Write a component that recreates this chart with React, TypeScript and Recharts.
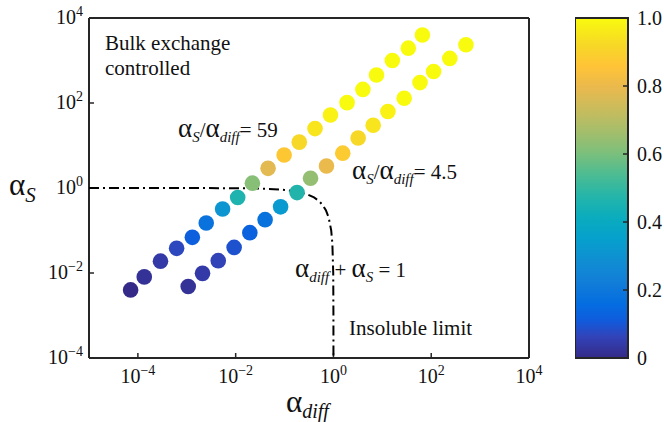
import React from 'react';
import { ScatterChart, Scatter, XAxis, YAxis, BarChart, Bar } from 'recharts';

const FONT = 'Liberation Serif, DejaVu Serif, Times New Roman, serif';
const INK = '#262626';

// alpha_S / alpha_diff = 59
const diff59 = [7.1e-5, 1.35e-4, 2.9e-4, 6.2e-4, 1.3e-3, 2.5e-3, 5.4e-3, 0.011, 0.022, 0.046, 0.098, 0.2, 0.42, 0.87, 1.9, 4.0, 7.6, 16, 34, 66];
const s59 = [0.004, 0.0081, 0.019, 0.038, 0.069, 0.15, 0.32, 0.6, 1.3, 2.9, 6.0, 12, 25, 52, 102, 209, 457, 1000, 1950, 3980];
const c59 = [0.0, 0.02, 0.04, 0.07, 0.12, 0.18, 0.31, 0.46, 0.62, 0.78, 0.87, 0.92, 0.95, 0.98, 1, 1, 1, 1, 1, 1];

// alpha_S / alpha_diff = 4.5
const diff45 = [1.07e-3, 2.1e-3, 4.4e-3, 9.3e-3, 0.0195, 0.04, 0.083, 0.18, 0.34, 0.72, 1.55, 3.2, 6.5, 13, 28, 59, 112, 240, 513];
const s45 = [0.0048, 0.0098, 0.0195, 0.04, 0.089, 0.18, 0.36, 0.78, 1.7, 3.3, 6.6, 15, 30, 63, 129, 302, 550, 1120, 2340];
const c45 = [0.02, 0.04, 0.06, 0.09, 0.13, 0.18, 0.33, 0.47, 0.64, 0.8, 0.88, 0.92, 0.95, 0.98, 1, 1, 1, 1, 1];

// insoluble limit curve, alpha_diff + alpha_S = 1
const limitDiff = [1e-5, 1e-3, 0.01, 0.03, 0.06, 0.1, 0.15, 0.2, 0.3, 0.4, 0.5, 0.6, 0.7, 0.8, 0.9, 0.95, 0.99, 0.999, 0.9999];
const limitS = [1, 0.999, 0.99, 0.97, 0.94, 0.9, 0.85, 0.8, 0.7, 0.6, 0.5, 0.4, 0.3, 0.2, 0.1, 0.05, 0.01, 0.001, 0.0001];

const xTicks = [1e-4, 1e-2, 1, 1e2, 1e4];
const yTicks = [1e-4, 1e-2, 1, 1e2, 1e4];
const cbTicks = [0, 0.2, 0.4, 0.6, 0.8, 1];

// parula colormap (position, r, g, b)
const PARULA = [
  [0.0, 0.2081, 0.1663, 0.5292],
  [0.0635, 0.1959, 0.2645, 0.7279],
  [0.111, 0.0591, 0.3598, 0.8683],
  [0.159, 0.0165, 0.4266, 0.8786],
  [0.222, 0.0723, 0.4887, 0.8467],
  [0.286, 0.0641, 0.557, 0.824],
  [0.349, 0.0239, 0.6287, 0.8038],
  [0.413, 0.0384, 0.6743, 0.7436],
  [0.476, 0.1453, 0.7098, 0.6646],
  [0.54, 0.3022, 0.7376, 0.5712],
  [0.603, 0.4871, 0.7491, 0.484],
  [0.667, 0.6473, 0.7456, 0.4188],
  [0.73, 0.7858, 0.7356, 0.3633],
  [0.794, 0.9139, 0.7258, 0.3063],
  [0.857, 0.999, 0.7653, 0.2164],
  [0.921, 0.9697, 0.8481, 0.1475],
  [1.0, 0.9763, 0.9831, 0.0538],
];

const rgb = (r: number, g: number, b: number) =>
  `rgb(${Math.round(r * 255)},${Math.round(g * 255)},${Math.round(b * 255)})`;

function parula(v: number) {
  const t = Math.max(0, Math.min(1, v));
  for (let i = 1; i < PARULA.length; i++) {
    const a = PARULA[i - 1];
    const b = PARULA[i];
    if (t <= b[0]) {
      const f = (t - a[0]) / (b[0] - a[0]);
      return rgb(a[1] + f * (b[1] - a[1]), a[2] + f * (b[2] - a[2]), a[3] + f * (b[3] - a[3]));
    }
  }
  const l = PARULA[PARULA.length - 1];
  return rgb(l[1], l[2], l[3]);
}

const pts59 = diff59.map((x, i) => ({ x, y: s59[i], c: c59[i] }));
const pts45 = diff45.map((x, i) => ({ x, y: s45[i], c: c45[i] }));
const limit = limitDiff.map((x, i) => ({ x, y: limitS[i] }));

const sup = (e: number) => (e < 0 ? '\u2212' + Math.abs(e) : String(e));
const txt = { fontFamily: FONT, fill: '#111' };

const XTick = (props: any) => {
  const { x, y, payload } = props;
  const e = Math.round(Math.log10(payload.value));
  return (
    <text x={x} y={y} textAnchor="middle" fontSize={20} style={txt}>
      <tspan>10</tspan>
      <tspan dy={-8} fontSize={14}>{sup(e)}</tspan>
    </text>
  );
};

const YTick = (props: any) => {
  const { x, y, payload } = props;
  const e = Math.round(Math.log10(payload.value));
  return (
    <text x={x} y={y + 6} textAnchor="end" fontSize={20} style={txt}>
      <tspan>10</tspan>
      <tspan dy={-8} fontSize={14}>{sup(e)}</tspan>
    </text>
  );
};

const Dot = (props: any) => (
  <circle cx={props.cx} cy={props.cy} r={7.8} fill={parula(props.payload.c)} />
);

function Notes() {
  return (
    <g>
      <text x={105} y={50} fontSize={21} style={txt}>Bulk exchange</text>
      <text x={105} y={75} fontSize={21} style={txt}>controlled</text>
      <text x={178} y={137} fontSize={21} style={txt}>
        <tspan fontSize={27}>α</tspan>
        <tspan fontSize={15} fontStyle="italic" dy={5}>S</tspan>
        <tspan dy={-5}>/</tspan>
        <tspan fontSize={27}>α</tspan>
        <tspan fontSize={15} fontStyle="italic" dy={5}>diff</tspan>
        <tspan dy={-5}>= 59</tspan>
      </text>
      <text x={352} y={179} fontSize={21} style={txt}>
        <tspan fontSize={27}>α</tspan>
        <tspan fontSize={15} fontStyle="italic" dy={5}>S</tspan>
        <tspan dy={-5}>/</tspan>
        <tspan fontSize={27}>α</tspan>
        <tspan fontSize={15} fontStyle="italic" dy={5}>diff</tspan>
        <tspan dy={-5}>= 4.5</tspan>
      </text>
      <text x={295} y={277} fontSize={21} style={txt}>
        <tspan fontSize={27}>α</tspan>
        <tspan fontSize={15} fontStyle="italic" dy={5}>diff</tspan>
        <tspan dy={-5}>{'\u00a0+ '}</tspan>
        <tspan fontSize={27}>α</tspan>
        <tspan fontSize={15} fontStyle="italic" dy={5}>S</tspan>
        <tspan dy={-5}>{'\u00a0= 1'}</tspan>
      </text>
      <text x={349} y={335} fontSize={21} style={txt}>Insoluble limit</text>
      {/* axis titles */}
      <text x={9} y={195} style={txt}>
        <tspan fontSize={31}>α</tspan>
        <tspan fontSize={21} fontStyle="italic" dy={7}>S</tspan>
      </text>
      <text x={286} y={412} style={txt}>
        <tspan fontSize={31}>α</tspan>
        <tspan fontSize={20} fontStyle="italic" dy={6}>diff</tspan>
      </text>
    </g>
  );
}

export default function App() {
  const axisLine = { stroke: INK, strokeWidth: 2 };
  const tickLine = { stroke: INK, strokeWidth: 1.5 };
  return (
    <div style={{ position: 'fixed', left: 0, top: 0, width: 664, height: 422, background: '#fff', overflow: 'hidden', fontFamily: FONT }}>
      <div style={{ position: 'absolute', left: 0, top: 0 }}>
        <ScatterChart width={664} height={422} margin={{ top: 0, right: 0, bottom: 0, left: 0 }}>
          <XAxis
            xAxisId="b"
            dataKey="x"
            type="number"
            scale="log"
            domain={[1e-5, 1e4]}
            allowDataOverflow
            ticks={xTicks}
            height={64}
            tickSize={-5}
            tickMargin={30}
            axisLine={axisLine}
            tickLine={tickLine}
            tick={<XTick />}
          />
          <XAxis
            xAxisId="t"
            orientation="top"
            dataKey="x"
            type="number"
            scale="log"
            domain={[1e-5, 1e4]}
            allowDataOverflow
            ticks={xTicks}
            height={18}
            tickSize={-5}
            axisLine={axisLine}
            tickLine={tickLine}
            tick={false}
          />
          <YAxis
            yAxisId="l"
            dataKey="y"
            type="number"
            scale="log"
            domain={[1e-4, 1e4]}
            allowDataOverflow
            ticks={yTicks}
            width={89}
            tickSize={-5}
            tickMargin={11}
            axisLine={axisLine}
            tickLine={tickLine}
            tick={<YTick />}
          />
          <YAxis
            yAxisId="r"
            orientation="right"
            dataKey="y"
            type="number"
            scale="log"
            domain={[1e-4, 1e4]}
            allowDataOverflow
            ticks={yTicks}
            width={135}
            tickSize={-5}
            axisLine={axisLine}
            tickLine={tickLine}
            tick={false}
          />
          <Scatter
            data={limit}
            xAxisId="t"
            yAxisId="r"
            line={{ stroke: '#000', strokeWidth: 2, strokeDasharray: '10 4 2 4' }}
            shape={() => <g />}
            isAnimationActive={false}
          />
          <Scatter data={pts59} xAxisId="b" yAxisId="l" shape={Dot} isAnimationActive={false} />
          <Scatter data={pts45} xAxisId="b" yAxisId="l" shape={Dot} isAnimationActive={false} />
          <Notes />
        </ScatterChart>
      </div>
      <div style={{ position: 'absolute', left: 575, top: 0 }}>
        <BarChart
          width={100}
          height={422}
          data={[{ name: 'cb', v: 1 }]}
          margin={{ top: 18, right: 0, bottom: 64, left: 0 }}
          barCategoryGap={0}
        >
          <defs>
            <linearGradient id="parulaGrad" x1="0" y1="1" x2="0" y2="0">
              {PARULA.map((p) => (
                <stop key={p[0]} offset={p[0]} stopColor={rgb(p[1], p[2], p[3])} />
              ))}
            </linearGradient>
          </defs>
          <XAxis dataKey="name" hide />
          <YAxis
            orientation="right"
            type="number"
            domain={[0, 1]}
            ticks={cbTicks}
            width={47}
            tickSize={-5}
            tickMargin={14}
            axisLine={axisLine}
            tickLine={tickLine}
            tickFormatter={(v: number) => (v === 0 ? '0' : v.toFixed(1))}
            tick={{ fontFamily: FONT, fontSize: 20, fill: '#111', style: { fontFamily: FONT } }}
          />
          <Bar dataKey="v" fill="url(#parulaGrad)" stroke={INK} strokeWidth={2} isAnimationActive={false} />
        </BarChart>
      </div>
    </div>
  );
}
